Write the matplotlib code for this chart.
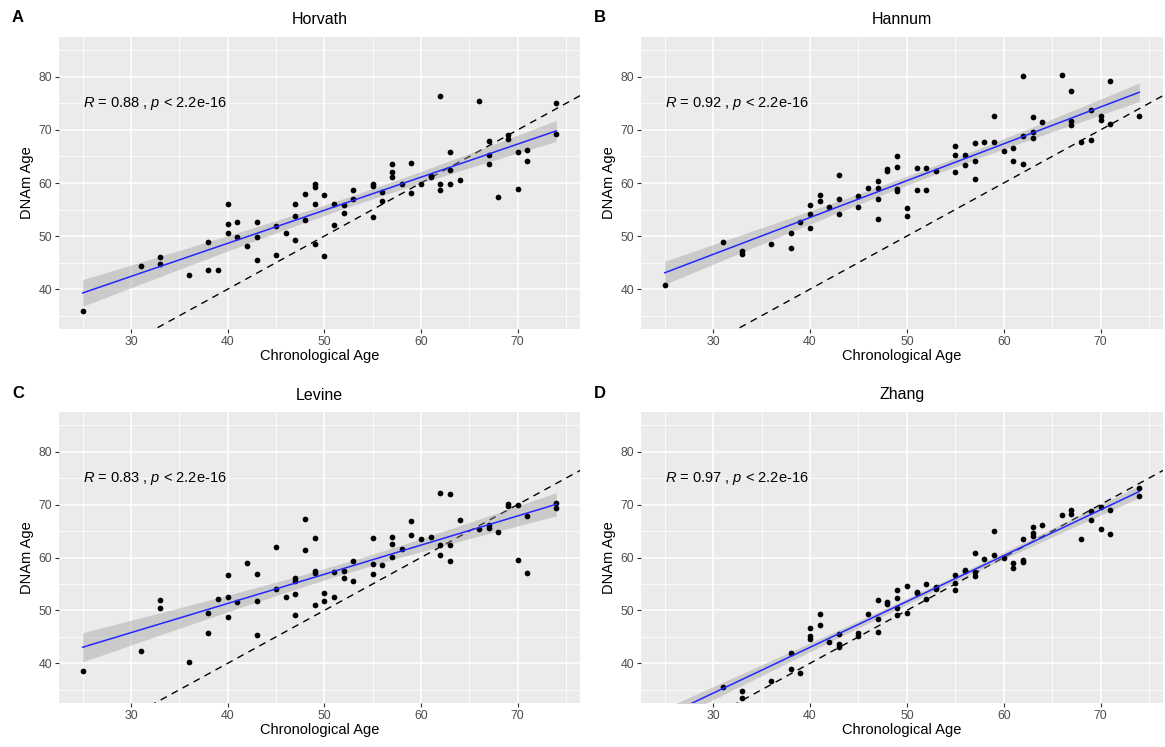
import matplotlib
matplotlib.use('Agg')
import matplotlib.pyplot as plt
import numpy as np

plt.rcParams['font.family'] = ['Liberation Sans', 'DejaVu Sans']
plt.rcParams['mathtext.fontset'] = 'custom'
plt.rcParams['mathtext.rm'] = 'Liberation Sans'
plt.rcParams['mathtext.it'] = 'Liberation Sans:italic'

# Horvath
x_a = [25, 31, 33, 33, 36, 38, 38, 39, 40, 40, 40, 41, 41, 42, 43, 43, 43, 45, 45, 46, 47, 47, 47, 48, 48,
       49, 49, 49, 49, 50, 50, 51, 51, 52, 52, 53, 53, 55, 55, 55, 56, 56, 57, 57, 57, 58, 59, 59, 60, 61,
       61, 62, 62, 62, 63, 63, 63, 64, 66, 67, 67, 67, 68, 69, 69, 70, 70, 71, 71, 74, 74]
y_a = [35.8, 44.3, 46.1, 44.8, 42.7, 48.8, 43.6, 43.6, 56.1, 52.2, 50.6, 52.7, 49.8, 48.1, 52.7, 49.9, 45.5,
       51.9, 46.4, 50.6, 56.0, 53.7, 49.2, 57.9, 53.0, 59.8, 59.3, 56.0, 48.6, 57.8, 46.2, 56.1, 52.0, 55.9,
       54.3, 58.6, 56.9, 59.8, 59.5, 53.6, 58.3, 56.6, 63.5, 62.0, 61.2, 59.9, 63.7, 58.1, 59.9, 61.3, 61.1,
       76.3, 59.8, 58.6, 65.9, 62.4, 59.9, 60.5, 75.5, 68.0, 65.3, 63.6, 57.3, 69.1, 68.2, 65.9, 58.8, 66.2,
       64.2, 75.1, 69.2]

# Hannum
x_b = [25, 31, 33, 33, 36, 38, 38, 39, 40, 40, 40, 41, 41, 42, 43, 43, 43, 45, 45, 46, 47, 47, 47, 47, 48,
       48, 49, 49, 49, 49, 50, 50, 51, 51, 52, 52, 53, 55, 55, 55, 56, 56, 57, 57, 57, 58, 59, 59, 60, 61,
       61, 62, 62, 62, 63, 63, 63, 64, 66, 67, 67, 67, 68, 69, 69, 70, 70, 71, 71, 74]
y_b = [40.8, 48.8, 47.1, 46.7, 48.5, 50.5, 47.8, 52.7, 55.9, 54.1, 51.6, 57.8, 56.7, 55.5, 61.6, 56.9, 54.1,
       57.5, 55.4, 59.1, 60.3, 59.0, 57.0, 53.3, 62.7, 62.2, 65.1, 63.0, 58.9, 58.4, 55.3, 53.7, 62.9, 58.6,
       62.9, 58.6, 62.2, 67.0, 65.3, 62.0, 65.3, 63.3, 67.5, 64.2, 60.8, 67.8, 72.7, 67.8, 66.0, 66.6, 64.1,
       80.2, 68.8, 63.6, 72.4, 69.7, 68.4, 71.5, 80.4, 77.4, 71.7, 71.0, 67.8, 73.8, 68.1, 72.6, 71.8, 79.3,
       71.1, 72.7]

# Levine
x_c = [25, 31, 33, 33, 36, 38, 38, 39, 40, 40, 40, 41, 42, 43, 43, 43, 45, 45, 46, 47, 47, 47, 47, 48, 48,
       49, 49, 49, 49, 50, 50, 51, 51, 52, 52, 53, 53, 55, 55, 55, 56, 57, 57, 57, 58, 59, 59, 60, 61, 62,
       62, 62, 63, 63, 63, 64, 66, 67, 67, 68, 69, 69, 70, 70, 71, 71, 74, 74]
y_c = [38.5, 42.4, 52.0, 50.5, 40.2, 49.6, 45.7, 52.1, 56.7, 52.6, 48.7, 51.6, 58.9, 56.8, 51.8, 45.3, 62.0,
       54.0, 52.6, 56.1, 55.5, 53.1, 49.1, 67.2, 61.4, 63.7, 57.5, 57.0, 51.1, 53.2, 51.8, 57.3, 52.5, 57.4,
       56.2, 59.4, 55.6, 63.6, 58.8, 56.9, 58.5, 63.8, 62.6, 60.1, 61.6, 66.9, 64.3, 63.5, 63.8, 72.2, 62.3,
       60.4, 72.0, 62.3, 59.4, 67.1, 65.3, 66.1, 65.6, 64.8, 70.1, 69.8, 69.9, 59.5, 67.8, 57.0, 70.3, 69.4]

# Zhang
x_d = [25, 31, 33, 33, 36, 38, 38, 39, 40, 40, 40, 41, 41, 42, 43, 43, 43, 45, 45, 46, 47, 47, 47, 48, 48,
       49, 49, 49, 49, 50, 50, 51, 51, 52, 52, 53, 53, 55, 55, 55, 56, 56, 57, 57, 57, 58, 59, 59, 60, 61,
       61, 62, 62, 62, 63, 63, 63, 64, 66, 67, 67, 68, 69, 69, 70, 70, 71, 71, 74, 74]
y_d = [30.0, 35.6, 34.7, 33.5, 36.7, 42.0, 38.9, 38.2, 46.7, 45.1, 44.6, 49.3, 47.2, 44.0, 45.6, 43.6, 43.1,
       45.7, 45.1, 49.4, 51.9, 48.3, 45.9, 51.6, 51.2, 53.8, 52.4, 50.4, 49.2, 54.7, 49.5, 53.5, 53.2, 54.9,
       52.1, 54.5, 54.0, 56.6, 55.1, 53.9, 57.7, 57.4, 60.9, 57.2, 56.5, 59.7, 65.1, 60.4, 59.9, 59.0, 58.1,
       63.5, 59.6, 59.1, 65.8, 64.6, 64.1, 66.2, 68.1, 68.9, 68.3, 63.5, 68.7, 67.1, 69.6, 65.3, 68.9, 64.5,
       73.1, 71.7]

titles = ['Horvath', 'Hannum', 'Levine', 'Zhang']
letters = ['A', 'B', 'C', 'D']
r_labels = ['0.88', '0.92', '0.83', '0.97']
xs = [x_a, x_b, x_c, x_d]
ys = [y_a, y_b, y_c, y_d]

W, H = 1165, 747
# plot areas in pixels: left, top, right, bottom
boxes = [(59, 37, 580, 329), (641, 37, 1163, 329), (59, 412, 580, 703), (641, 412, 1163, 703)]

fig = plt.figure(figsize=(W / 100, H / 100), dpi=100)

for i in range(4):
    l, t, r, b = boxes[i]
    ax = fig.add_axes([l / W, 1 - b / H, (r - l) / W, (b - t) / H])
    x = np.array(xs[i], dtype=float)
    y = np.array(ys[i], dtype=float)

    ax.set_facecolor('#EBEBEB')
    for s in ax.spines.values():
        s.set_visible(False)
    ax.set_xlim(22.55, 76.45)
    ax.set_ylim(32.5, 87.5)
    ax.set_xticks([30, 40, 50, 60, 70])
    ax.set_yticks([40, 50, 60, 70, 80])
    ax.set_xticks([25, 35, 45, 55, 65, 75], minor=True)
    ax.set_yticks([35, 45, 55, 65, 75, 85], minor=True)
    ax.grid(which='major', color='white', linewidth=1.1)
    ax.grid(which='minor', color='white', linewidth=0.55)
    ax.set_axisbelow(True)
    ax.tick_params(which='major', length=3, width=0.8, color='#333333', labelcolor='#4D4D4D', labelsize=8.8, pad=2)
    ax.tick_params(which='minor', length=0)

    # identity line
    ax.plot([22.55, 76.45], [22.55, 76.45], color='black', linestyle=(0, (5, 4)), linewidth=1.0, zorder=2)

    # linear fit + 95% CI
    n = len(x)
    slope, inter = np.polyfit(x, y, 1)
    resid = y - (slope * x + inter)
    s_err = np.sqrt(np.sum(resid ** 2) / (n - 2))
    xf = np.linspace(x.min(), x.max(), 100)
    yf = slope * xf + inter
    se = s_err * np.sqrt(1.0 / n + (xf - x.mean()) ** 2 / np.sum((x - x.mean()) ** 2))
    ax.fill_between(xf, yf - 1.995 * se, yf + 1.995 * se, color='#999999', alpha=0.4, linewidth=0, zorder=3)

    ax.scatter(x, y, s=17, color='black', linewidths=0, zorder=4)
    ax.plot(xf, yf, color='#2626FF', linewidth=1.1, zorder=5)

    ax.text(25, 75, r'$\mathit{R}$ = ' + r_labels[i] + r' , $\mathit{p}$ < 2.2e-16',
            fontsize=10.5, ha='left', va='center', color='black')

    ax.set_xlabel('Chronological Age', fontsize=10.5, labelpad=1)
    ax.set_ylabel('DNAm Age', fontsize=10.5, labelpad=3)
    ax.set_title(titles[i], fontsize=11.5, pad=9)

    fig.text((l - 47) / W, 1 - (t - 19) / H, letters[i], fontsize=12, fontweight='bold', ha='left', va='center')

fig.savefig('out.png', dpi=100)
